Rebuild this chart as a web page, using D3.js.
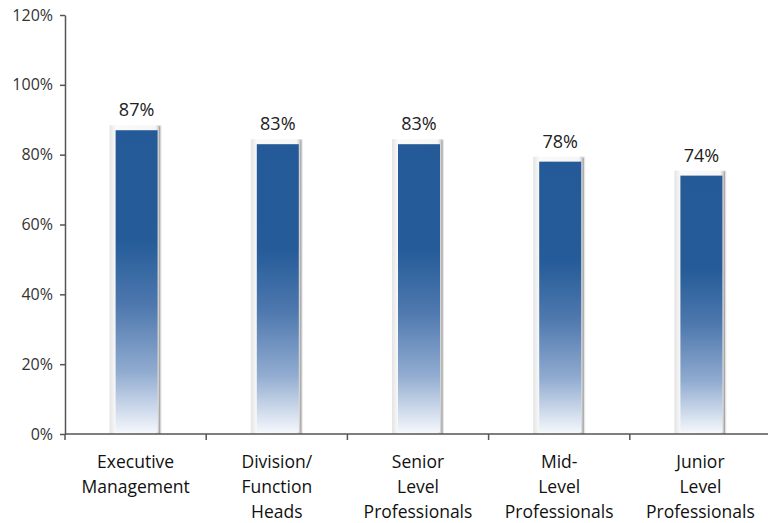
<!DOCTYPE html>
<html>
<head>
<meta charset="utf-8">
<script src="https://cdn.jsdelivr.net/npm/d3@7"></script>
<style>
  body { margin: 0; background: #fff; }
  svg { display: block; }
</style>
</head>
<body>
<svg id="chart" width="768" height="523"></svg>
<script>
// Share of respondents by level
const categories = [
  ["Executive", "Management"],
  ["Division/", "Function", "Heads"],
  ["Senior", "Level", "Professionals"],
  ["Mid-", "Level", "Professionals"],
  ["Junior", "Level", "Professionals"]
];
const values = [87, 83, 83, 78, 74];
const yTicks = [0, 20, 40, 60, 80, 100, 120];

const svg = d3.select("#chart");
const margin = { top: 15, right: -3, bottom: 89, left: 65 };
const W = 768, H = 523;

const x = d3.scaleBand()
  .domain(d3.range(categories.length))
  .range([margin.left, W - margin.right])
  .paddingInner(0)
  .paddingOuter(0);

const y = d3.scaleLinear()
  .domain([0, 120])
  .range([H - margin.bottom, margin.top]);

const defs = svg.append("defs");
const grad = defs.append("linearGradient")
  .attr("id", "barFill")
  .attr("x1", 0).attr("y1", 0).attr("x2", 0).attr("y2", 1);
[[0, "#235a97"], [0.36, "#245b98"], [0.58, "#4e78ae"], [0.8, "#90abd0"], [1, "#f3f6fb"]]
  .forEach(([o, c]) => grad.append("stop").attr("offset", o).attr("stop-color", c));

const frameGrad = defs.append("linearGradient")
  .attr("id", "frameFill")
  .attr("x1", 0).attr("y1", 0).attr("x2", 1).attr("y2", 0);
[[0, "#e4e4e4"], [0.12, "#fafafa"], [0.88, "#f6f6f6"], [0.94, "#d0d0d0"], [1, "#ececec"]]
  .forEach(([o, c]) => frameGrad.append("stop").attr("offset", o).attr("stop-color", c));

const frameW = 52, barW = 42;
const FONT = "'Open Sans', sans-serif";

const g = svg.append("g").selectAll("g.bar")
  .data(values)
  .join("g")
  .attr("class", "bar");

// light frame behind each bar
g.append("rect")
  .attr("x", (d, i) => x(i) + x.bandwidth() / 2 - frameW / 2)
  .attr("y", d => y(d) - 5)
  .attr("width", frameW)
  .attr("height", d => y(0) - y(d) + 5)
  .attr("fill", "url(#frameFill)");

// darker right edge of the frame
g.append("line")
  .attr("x1", (d, i) => x(i) + x.bandwidth() / 2 + frameW / 2 - 2)
  .attr("x2", (d, i) => x(i) + x.bandwidth() / 2 + frameW / 2 - 2)
  .attr("y1", d => y(d) - 4)
  .attr("y2", y(0))
  .attr("stroke", "#a8a8a8")
  .attr("stroke-width", 1.3);

// blue bar
g.append("rect")
  .attr("x", (d, i) => x(i) + x.bandwidth() / 2 - barW / 2 + 1)
  .attr("y", d => y(d))
  .attr("width", barW)
  .attr("height", d => y(0) - y(d) - 2)
  .attr("fill", "url(#barFill)");

// value labels
g.append("text")
  .attr("x", (d, i) => x(i) + x.bandwidth() / 2 + 1)
  .attr("y", d => y(d) - 14)
  .attr("text-anchor", "middle")
  .style("font-family", FONT)
  .style("font-size", "18px")
  .attr("fill", "#222")
  .text(d => d + "%");

// y axis
const yAxis = svg.append("g")
  .attr("transform", `translate(${margin.left},0)`)
  .call(d3.axisLeft(y).tickValues(yTicks).tickFormat(d => d + "%").tickSize(5).tickSizeOuter(0));
yAxis.select(".domain").attr("stroke", "#555").attr("stroke-width", 1.5);
yAxis.selectAll(".tick line").attr("stroke", "#555").attr("stroke-width", 1.5);
yAxis.selectAll(".tick text")
  .attr("x", -12)
  .style("font-family", FONT)
  .style("font-size", "16px")
  .attr("fill", "#333");

// x axis with ticks between categories
const xAxisG = svg.append("g").attr("transform", `translate(0,${y(0)})`);
xAxisG.append("line")
  .attr("x1", margin.left).attr("x2", W)
  .attr("stroke", "#555").attr("stroke-width", 1.5);
xAxisG.selectAll("line.tk")
  .data(d3.range(categories.length + 1))
  .join("line")
  .attr("class", "tk")
  .attr("x1", i => x.step() * i + margin.left)
  .attr("x2", i => x.step() * i + margin.left)
  .attr("y1", 0).attr("y2", 6)
  .attr("stroke", "#555").attr("stroke-width", 1.5);

xAxisG.selectAll("text.cat")
  .data(categories)
  .join("text")
  .attr("class", "cat")
  .attr("text-anchor", "middle")
  .style("font-family", FONT)
  .style("font-size", "17.5px")
  .attr("fill", "#111")
  .each(function (lines, i) {
    d3.select(this).selectAll("tspan")
      .data(lines)
      .join("tspan")
      .attr("x", x(i) + x.bandwidth() / 2)
      .attr("y", (l, j) => 34 + j * 25)
      .text(l => l);
  });
</script>
</body>
</html>
